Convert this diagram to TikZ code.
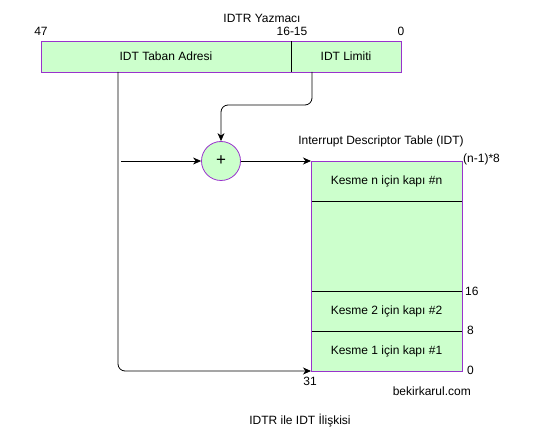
\documentclass[tikz,border=0pt]{standalone}
\usepackage{fontspec}
\setmainfont{Liberation Sans}
\usetikzlibrary{arrows.meta}
\definecolor{boxfill}{HTML}{CCFFCC}
\definecolor{boxline}{HTML}{9933CC}
\tikzset{
  box/.style={draw=boxline, fill=boxfill, line width=0.8pt},
  lbl/.style={font=\fontsize{12}{14}\selectfont, inner sep=0pt},
  conn/.style={draw=black, line width=0.8pt, rounded corners=7pt, -{Stealth[length=8pt,width=7pt,inset=2.5pt]}},
  sep/.style={draw=black, line width=0.8pt}
}
\begin{document}
\begin{tikzpicture}[x=1pt,y=-1pt]
\useasboundingbox (0,0) rectangle (549,446);
% IDTR register
\path[box] (41,41) rectangle (401,72);
\draw[sep] (291,41) -- (291,72);
\node[lbl] (taban) at (166,56.5) {IDT Taban Adresi};
\node[lbl] (limit) at (346,56.5) {IDT Limiti};
\node[lbl] (idtr) at (262,18) {IDTR Yazmacı};
\node[lbl] (b47) at (41,31) {47};
\node[lbl] (b1615) at (292,31) {16-15};
\node[lbl] (b0) at (401,31) {0};
\coordinate (tabanb) at (118,72);
\coordinate (limitb) at (312,72);
% adder
\node[circle, box, minimum size=39pt, inner sep=0pt, font=\fontsize{17}{19}\selectfont] (plus) at (221,161) {+};
\coordinate (inleft) at (121,161);
% IDT table
\path[box] (311,161) rectangle (462,371);
\draw[sep] (311,201) -- (462,201);
\draw[sep] (311,291) -- (462,291);
\draw[sep] (311,331) -- (462,331);
\draw[boxline, line width=0.8pt] (311,161) rectangle (462,371);
\coordinate (tabletl) at (311,161);
\coordinate (tablebl) at (311,371);
\node[lbl] (rown) at (386.5,181) {Kesme n için kapı \#n};
\node[lbl] (row2) at (386.5,311) {Kesme 2 için kapı \#2};
\node[lbl] (row1) at (386.5,351) {Kesme 1 için kapı \#1};
\node[lbl] (idtt) at (381,141) {Interrupt Descriptor Table (IDT)};
\node[lbl, anchor=west] (nm1) at (463,159) {(n-1)*8};
\node[lbl, anchor=west] (o16) at (465,291) {16};
\node[lbl, anchor=west] (o8) at (467,330) {8};
\node[lbl, anchor=west] (o0) at (467,370) {0};
\node[lbl] (o31) at (310,381) {31};
\node[lbl, anchor=east] (site) at (471,391) {bekirkarul.com};
\node[lbl] (title) at (300,421) {IDTR ile IDT İlişkisi};
% connectors
\draw[conn] (limitb) -- (312,105) -- (221,105) -- (plus.north);
\draw[conn] (inleft) -- (plus.west);
\draw[conn] (plus.east) -- (tabletl);
\draw[conn] (tabanb) -- (118,371) -- (tablebl);
\end{tikzpicture}
\end{document}
